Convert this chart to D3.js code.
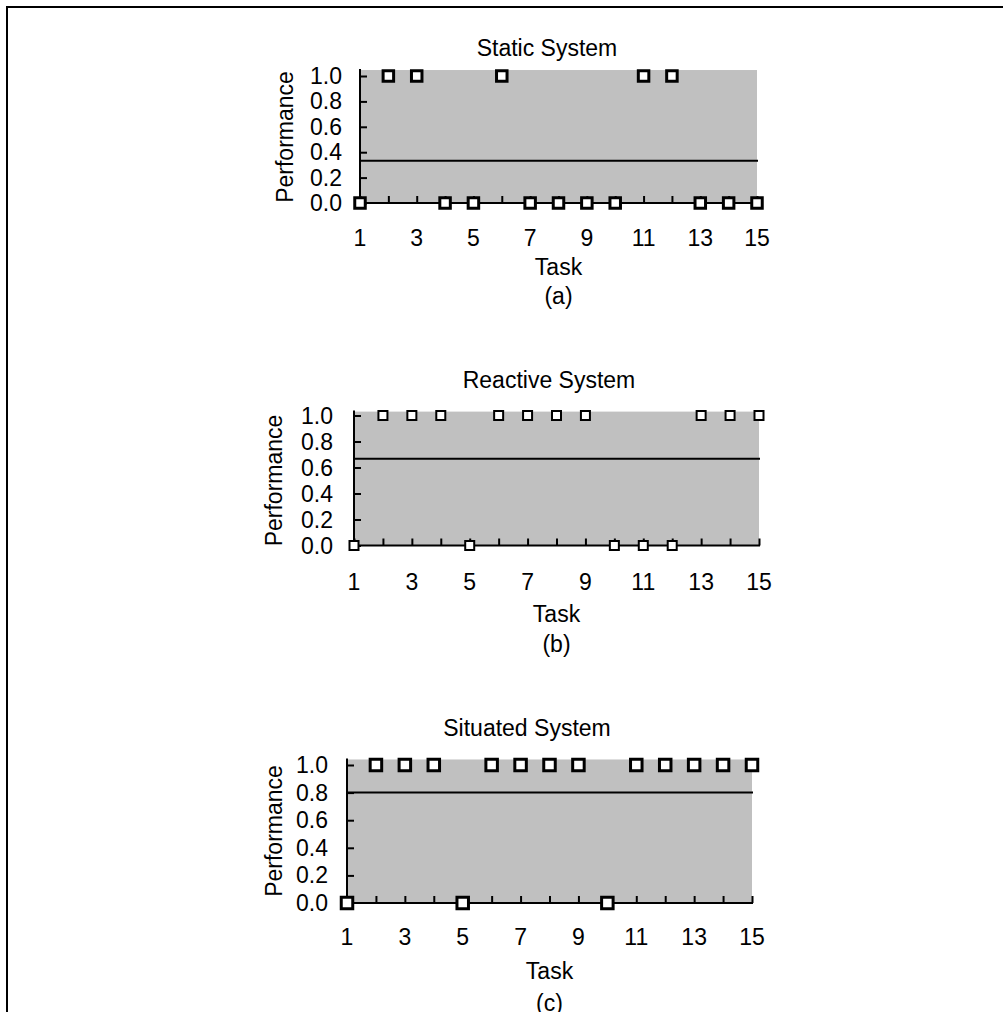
<!DOCTYPE html>
<html>
<head>
<meta charset="utf-8">
<script src="https://cdn.jsdelivr.net/npm/d3@7"></script>
<style>
  body { margin: 0; background: #fff; }
  text { font-family: "Liberation Sans", Arial, sans-serif; fill: #000; font-size: 23px; }
</style>
</head>
<body>
<div id="viz"></div>
<script>
// data
var tasks = [1, 2, 3, 4, 5, 6, 7, 8, 9, 10, 11, 12, 13, 14, 15];
var staticPerf   = [0, 1, 1, 0, 0, 1, 0, 0, 0, 0, 1, 1, 0, 0, 0];
var reactivePerf = [0, 1, 1, 1, 0, 1, 1, 1, 1, 0, 0, 0, 1, 1, 1];
var situatedPerf = [0, 1, 1, 1, 0, 1, 1, 1, 1, 0, 1, 1, 1, 1, 1];
var titles = ["Static System", "Reactive System", "Situated System"];
var captions = ["(a)", "(b)", "(c)"];
var xTickLabels = [1, 3, 5, 7, 9, 11, 13, 15];
var yTicks = [0, 0.2, 0.4, 0.6, 0.8, 1.0];

// panel layout (pixels)
var panels = [
  {data: staticPerf,   x0: 360, x1: 757, y0: 203,   y1: 76,    top: 1.047, titleX: 547, titleY: 55.5,
   tickY: 43, taskY: 72, capY: 101, labX: 293, labY: 137, tickPad: 18, mk: 10.5, mkw: 3},
  {data: reactivePerf, x0: 354, x1: 759, y0: 545.5, y1: 415.5, top: 1.03,  titleX: 549, titleY: 387.5,
   tickY: 44.5, taskY: 76, capY: 106, labX: 282, labY: 480.5, tickPad: 21, mk: 9, mkw: 2},
  {data: situatedPerf, x0: 347, x1: 752, y0: 903,   y1: 765,   top: 1.04,  titleX: 527, titleY: 736,
   tickY: 42, taskY: 76, capY: 108, labX: 282, labY: 831, tickPad: 19, mk: 11.5, mkw: 3}
];

var width = 1003, height = 1012;

var svg = d3.select("#viz")
            .append("svg")
            .attr("width", width)
            .attr("height", height);

// outer frame (runs off the right and bottom edges)
svg.append("rect")
    .attr("x", 7).attr("y", 7)
    .attr("width", 1100).attr("height", 1100)
    .attr("fill", "none")
    .attr("stroke", "#000")
    .attr("stroke-width", 2);

panels.forEach(function (p, i) {
  var x = d3.scaleLinear().domain([1, 15]).range([p.x0, p.x1]);
  var y = d3.scaleLinear().domain([0, 1]).range([p.y0, p.y1]);
  var g = svg.append("g");
  var cx = (p.x0 + p.x1) / 2;

  // grey plot area
  g.append("rect")
      .attr("x", x(1))
      .attr("y", y(p.top))
      .attr("width", x(15) - x(1))
      .attr("height", y(0) - y(p.top))
      .attr("fill", "#c0c0c0");

  // mean line
  var m = d3.mean(p.data);
  g.append("line")
      .attr("x1", x(1)).attr("x2", x(15) + 1)
      .attr("y1", y(m)).attr("y2", y(m))
      .attr("stroke", "#000")
      .attr("stroke-width", 2);

  // y axis (ticks inside)
  var yAxis = g.append("g")
      .attr("transform", "translate(" + x(1) + ",0)")
      .call(d3.axisRight(y).tickValues(yTicks).tickSize(7).tickFormat(""));
  yAxis.select(".domain").remove();
  yAxis.selectAll("line").attr("stroke", "#000").attr("stroke-width", 2);
  g.append("line")
      .attr("x1", x(1)).attr("x2", x(1))
      .attr("y1", y(p.top) - 1).attr("y2", y(0))
      .attr("stroke", "#000").attr("stroke-width", 2);
  g.selectAll(".ylab")
      .data(yTicks)
      .enter()
      .append("text")
      .attr("x", x(1) - p.tickPad)
      .attr("y", function (d) { return y(d) + 8; })
      .attr("text-anchor", "end")
      .text(function (d) { return d3.format(".1f")(d); });

  // x axis (ticks inside)
  var xAxis = g.append("g")
      .attr("transform", "translate(0," + y(0) + ")")
      .call(d3.axisTop(x).tickValues(tasks).tickSize(7).tickFormat(""));
  xAxis.select(".domain").remove();
  xAxis.selectAll("line").attr("stroke", "#000").attr("stroke-width", 2);
  g.append("line")
      .attr("x1", x(1)).attr("x2", x(15) + 1)
      .attr("y1", y(0)).attr("y2", y(0))
      .attr("stroke", "#000").attr("stroke-width", 2);
  g.selectAll(".xlab")
      .data(xTickLabels)
      .enter()
      .append("text")
      .attr("x", function (d) { return x(d); })
      .attr("y", y(0) + p.tickY)
      .attr("text-anchor", "middle")
      .text(function (d) { return d; });

  // markers
  g.selectAll(".pt")
      .data(p.data)
      .enter()
      .append("rect")
      .attr("x", function (d, j) { return x(tasks[j]) - p.mk / 2; })
      .attr("y", function (d) { return y(d) - p.mk / 2; })
      .attr("width", p.mk)
      .attr("height", p.mk)
      .attr("fill", "#fff")
      .attr("stroke", "#000")
      .attr("stroke-width", p.mkw);

  // texts
  g.append("text")
      .attr("x", p.titleX)
      .attr("y", p.titleY)
      .attr("text-anchor", "middle")
      .text(titles[i]);
  g.append("text")
      .attr("x", cx)
      .attr("y", y(0) + p.taskY)
      .attr("text-anchor", "middle")
      .text("Task");
  g.append("text")
      .attr("x", cx)
      .attr("y", y(0) + p.capY)
      .attr("text-anchor", "middle")
      .text(captions[i]);
  g.append("text")
      .attr("transform", "translate(" + p.labX + "," + p.labY + ") rotate(-90)")
      .attr("text-anchor", "middle")
      .text("Performance");
});
</script>
</body>
</html>
